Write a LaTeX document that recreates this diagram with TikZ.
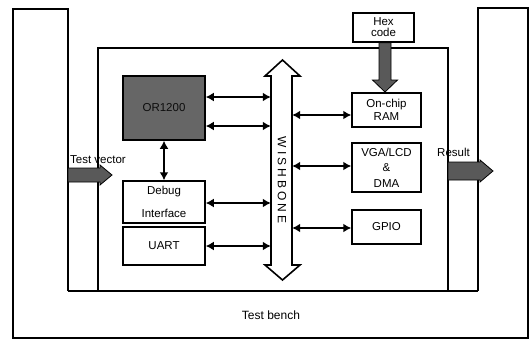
\documentclass[tikz,border=0pt]{standalone}
\usepackage{fontspec}
\setmainfont{Liberation Sans}
\newfontfamily\spaced[LetterSpace=25]{Liberation Sans}
\usetikzlibrary{arrows.meta}
\begin{document}
\begin{tikzpicture}[x=1pt,y=-1pt,
  box/.style={draw, line width=1.5pt, align=center, inner sep=0pt, font=\fontsize{11.5}{13}\selectfont},
  link/.style={line width=2.6pt, {Latex[length=8pt,width=9pt]}-{Latex[length=8pt,width=9pt]}},
  frame/.style={line width=1.2pt},
  fat/.style={draw=black, line width=0.8pt, fill=black!65},
  lbl/.style={font=\fontsize{11.5}{13}\selectfont, inner sep=0pt}
]
\useasboundingbox (0,0) rectangle (532,340);
% frame
\draw[frame] (68,291) -- (68,9) -- (13,9) -- (13,338) -- (528,338) -- (528,8) -- (478,8) -- (478,291);
\draw[frame] (68,291) -- (478,291);
\draw[frame] (98,291) -- (98,48) -- (448,48) -- (448,291);
% blocks
\node (or) [box, fill=black!60, text=black!95, minimum width=82pt, minimum height=64pt] at (164,108) {OR1200};
\node (dbg) [box, minimum width=82pt, minimum height=42pt, font=\fontsize{11.5}{23}\selectfont] at (164,202) {Debug\\Interface};
\node (uart) [box, minimum width=82pt, minimum height=38pt] at (164,246) {UART};
\node (hex) [box, minimum width=61pt, minimum height=29pt, font=\fontsize{11.5}{11}\selectfont] at (383.5,27.5) {Hex\\code};
\node (ram) [box, minimum width=69pt, minimum height=34pt, font=\fontsize{11.5}{13}\selectfont] at (386.5,110) {On-chip\\RAM};
\node (vga) [box, minimum width=69pt, minimum height=49pt, font=\fontsize{11.5}{15.5}\selectfont] at (386.5,167.5) {VGA/LCD\\\&\\DMA};
\node (gpio) [box, minimum width=69pt, minimum height=34pt] at (386.5,227) {GPIO};
% wishbone bus
\node (bus) [minimum width=21pt, minimum height=189pt, inner sep=0pt] at (281.5,170.5) {};
\draw[line width=1.6pt, fill=white] (271,76) -- (265,76) -- (282.5,60) -- (300,76) -- (292,76) -- (292,265) -- (300,265) -- (282.5,280) -- (265,265) -- (271,265) -- cycle;
\node[rotate=-90, inner sep=0pt, font=\spaced\fontsize{12}{12}\selectfont] at (282,180) {WISHBONE};
% links
\draw[link] (or.south) -- (dbg.north);
\draw[link] (or.east |- 0,97) -- (bus.west |- 0,97);
\draw[link] (or.east |- 0,126) -- (bus.west |- 0,126);
\draw[link] (dbg.east |- 0,203) -- (bus.west |- 0,203);
\draw[link] (uart.east |- 0,246) -- (bus.west |- 0,246);
\draw[link] (bus.east |- 0,115) -- (ram.west |- 0,115);
\draw[link] (bus.east |- 0,166) -- (vga.west |- 0,166);
\draw[link] (bus.east |- 0,228) -- (gpio.west |- 0,228);
% fat arrows
\draw[fat] (hex.south -| 379,0) -- (379,80) -- (372.5,80) -- (385,92) -- (397.5,80) -- (391,80) -- (hex.south -| 391,0) -- cycle;
\draw[fat] (68,168) -- (100,168) -- (100,165) -- (112,175) -- (100,185) -- (100,182) -- (68,182) -- cycle;
\draw[fat] (448,162) -- (480,162) -- (480,160) -- (493,171) -- (480,182) -- (480,180) -- (448,180) -- cycle;
% labels
\node[lbl, anchor=west] at (70,160) {Test vector};
\node[lbl, anchor=west] at (437,152) {Result};
\node[lbl, font=\fontsize{12}{12}\selectfont] at (271,315) {Test bench};
\end{tikzpicture}
\end{document}
